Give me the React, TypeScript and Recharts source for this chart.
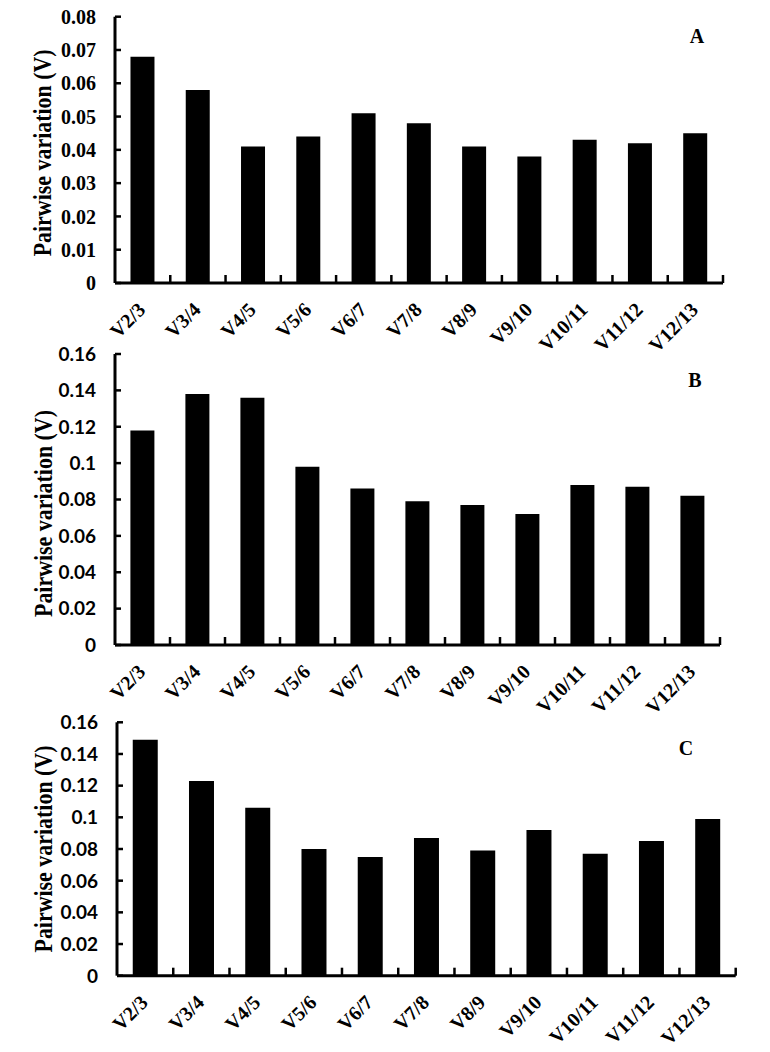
import React from 'react';
import { BarChart, Bar, XAxis, YAxis, Customized } from 'recharts';

const categories = ['V2/3', 'V3/4', 'V4/5', 'V5/6', 'V6/7', 'V7/8', 'V8/9', 'V9/10', 'V10/11', 'V11/12', 'V12/13'];
const valuesA = [0.068, 0.058, 0.041, 0.044, 0.051, 0.048, 0.041, 0.038, 0.043, 0.042, 0.045];
const valuesB = [0.118, 0.138, 0.136, 0.098, 0.086, 0.079, 0.077, 0.072, 0.088, 0.087, 0.082];
const valuesC = [0.149, 0.123, 0.106, 0.080, 0.075, 0.087, 0.079, 0.092, 0.077, 0.085, 0.099];
const ticksA = [0, 0.01, 0.02, 0.03, 0.04, 0.05, 0.06, 0.07, 0.08];
const ticksBC = [0, 0.02, 0.04, 0.06, 0.08, 0.1, 0.12, 0.14, 0.16];
const yTitle = 'Pairwise variation (V)';

const SERIF = '"Liberation Serif", "Times New Roman", serif';
const SANS = 'Lato, Carlito, Calibri, sans-serif';

const fmt = (v: number) => String(Number(v.toFixed(2)));

const makeXTick = (count: number) => (props: any) => {
  const { x, y, payload, width } = props;
  const off = typeof payload?.offset === 'number' && payload.offset > 0 ? payload.offset : width / count / 2;
  const bx = payload.coordinate + off;
  const tx = x + 4;
  const ty = y + 28;
  return (
    <g>
      <line x1={bx} x2={bx} y1={y} y2={y - 8} stroke="#000" strokeWidth={2.5} />
      <text
        x={tx}
        y={ty}
        textAnchor="end"
        transform={`rotate(-45 ${tx} ${ty})`}
        fontFamily={SERIF}
        fontWeight="bold"
        fontSize={20}
        fill="#000"
      >
        {payload.value}
      </text>
    </g>
  );
};

const makeYTick = (font: string, size: number) => (props: any) => {
  const { x, y, payload } = props;
  return (
    <g>
      <line x1={x} x2={x + 6} y1={y} y2={y} stroke="#000" strokeWidth={2.5} />
      <text x={x - 19} y={y} dy="0.36em" textAnchor="end" fontFamily={font} fontWeight="bold" fontSize={size} fill="#000">
        {fmt(payload.value)}
      </text>
    </g>
  );
};

const makeTitle = (dx: number, dyShift: number) => (props: any) => {
  const vb = props.viewBox || {};
  const cx = vb.x + dx;
  const cy = vb.y + vb.height / 2 + dyShift;
  return (
    <text
      x={cx}
      y={cy}
      textAnchor="middle"
      dominantBaseline="central"
      transform={`rotate(-90 ${cx} ${cy})`}
      fontFamily={SERIF}
      fontWeight="bold"
      fontSize={26}
      textLength={207}
      lengthAdjust="spacingAndGlyphs"
      fill="#000"
    >
      {yTitle}
    </text>
  );
};

type PanelProps = {
  values: number[];
  ticks: number[];
  top: number;
  height: number;
  marginTop: number;
  marginRight: number;
  yWidth: number;
  xHeight: number;
  tickFont: string;
  tickSize: number;
  letter: string;
  letterX: number;
  letterY: number;
  titleShift: number;
};

const Panel = (p: PanelProps) => {
  const data = categories.map((c, i) => ({ name: c, v: p.values[i] }));
  const max = p.ticks[p.ticks.length - 1];
  return (
    <div style={{ position: 'absolute', left: 0, top: p.top, width: 770, height: p.height }}>
      <BarChart
        width={770}
        height={p.height}
        data={data}
        margin={{ top: p.marginTop, right: p.marginRight, left: 0, bottom: 0 }}
        barCategoryGap="28%"
        style={{ overflow: 'visible' }}
      >
        <XAxis
          dataKey="name"
          height={p.xHeight}
          interval={0}
          tickSize={0}
          tickMargin={0}
          tickLine={false}
          axisLine={{ stroke: '#000', strokeWidth: 3 }}
          tick={makeXTick(categories.length)}
        />
        <YAxis
          type="number"
          domain={[0, max]}
          ticks={p.ticks}
          interval={0}
          width={p.yWidth}
          tickSize={0}
          tickMargin={0}
          tickLine={false}
          axisLine={{ stroke: '#000', strokeWidth: 3 }}
          tick={makeYTick(p.tickFont, p.tickSize)}
          label={{ content: makeTitle(43, p.titleShift) } as any}
        />
        <Bar dataKey="v" fill="#000" isAnimationActive={false} />
        <Customized
          component={() => (
            <text x={p.letterX} y={p.letterY} textAnchor="middle" fontFamily={SERIF} fontWeight="bold" fontSize={20} fill="#000">
              {p.letter}
            </text>
          )}
        />
      </BarChart>
    </div>
  );
};

export default function App() {
  return (
    <div style={{ position: 'absolute', left: 0, top: 0, width: 770, height: 1052, background: '#fff' }}>
      <style>{`svg { overflow: visible !important; } .recharts-wrapper, .recharts-surface { overflow: visible !important; }`}</style>
      <Panel
        values={valuesA}
        ticks={ticksA}
        top={0}
        height={330}
        marginTop={16.7}
        marginRight={47}
        yWidth={115}
        xHeight={47}
        tickFont={SERIF}
        tickSize={20}
        letter="A"
        letterX={697}
        letterY={43}
        titleShift={3}
      />
      <Panel
        values={valuesB}
        ticks={ticksBC}
        top={330}
        height={375}
        marginTop={24}
        marginRight={50}
        yWidth={115}
        xHeight={60}
        tickFont={SANS}
        tickSize={19}
        letter="B"
        letterX={695}
        letterY={57}
        titleShift={14}
      />
      <Panel
        values={valuesC}
        ticks={ticksBC}
        top={705}
        height={347}
        marginTop={17.3}
        marginRight={34.3}
        yWidth={117}
        xHeight={76.3}
        tickFont={SANS}
        tickSize={19}
        letter="C"
        letterX={686}
        letterY={50}
        titleShift={0}
      />
    </div>
  );
}
